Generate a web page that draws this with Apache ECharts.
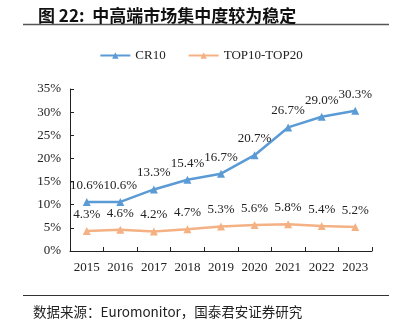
<!DOCTYPE html>
<html><head><meta charset="utf-8">
<script src="https://cdn.jsdelivr.net/npm/echarts@6/dist/echarts.min.js"></script>
<style>html,body{margin:0;padding:0;background:#fff}#c{width:402px;height:336px}</style>
</head><body><div id="c"></div>
<script>
const categories = ['2015','2016','2017','2018','2019','2020','2021','2022','2023'];
const cr10 = [10.6,10.6,13.3,15.4,16.7,20.7,26.7,29.0,30.3];
const top10to20 = [4.3,4.6,4.2,4.7,5.3,5.6,5.8,5.4,5.2];
const seriesNames = ['CR10','TOP10-TOP20'];
const titleText = '图 22:  中高端市场集中度较为稳定';
const sourceText = '数据来源：Euromonitor，国泰君安证券研究';

const serif = '"Liberation Serif","DejaVu Serif",serif';
const chart = echarts.init(document.getElementById('c'));
const lbl = {show:true, position:'top', distance:6, color:'#222', fontFamily:serif, fontSize:13,
  formatter: p => p.value.toFixed(1) + '%'};
chart.setOption({
  animation:false,
  title:{text:titleText, left:33, top:2, textStyle:{fontFamily:'"Noto Sans CJK SC"', fontWeight:'bold', fontSize:17, color:'#111'}},
  graphic:[
    {type:'line', shape:{x1:23,y1:24.5,x2:389,y2:24.5}, style:{stroke:'#555', lineWidth:1.5}},
    {type:'line', shape:{x1:23,y1:295.5,x2:389,y2:295.5}, style:{stroke:'#333', lineWidth:1.2}},
    {type:'text', left:33, top:305, style:{text:sourceText, fontFamily:'"Noto Sans CJK SC"', fontSize:13.5, fill:'#222'}}
  ],
  legend:{top:44, left:'center', itemGap:22, itemWidth:30, itemHeight:8,
    textStyle:{fontFamily:serif, fontSize:13, color:'#222'}, data:seriesNames},
  grid:{left:70, right:30, top:89, bottom:85},
  xAxis:{type:'category', data:categories, boundaryGap:true,
    axisLine:{lineStyle:{color:'#222', width:1}},
    axisTick:{show:true, inside:true, length:4, interval:0, lineStyle:{color:'#222'}},
    axisLabel:{color:'#222', fontFamily:serif, fontSize:13, margin:10, interval:0}},
  yAxis:{type:'value', min:0, max:35, interval:5,
    axisLine:{show:true, lineStyle:{color:'#222', width:1}},
    axisTick:{show:true, inside:true, length:4, lineStyle:{color:'#222'}},
    splitLine:{show:false},
    axisLabel:{color:'#222', fontFamily:serif, fontSize:13, margin:9, formatter:'{value}%'}},
  series:[
    {name:seriesNames[0], type:'line', data:cr10, symbol:'triangle', symbolSize:8,
      lineStyle:{color:'#5B9BD5', width:2.5}, itemStyle:{color:'#5B9BD5'}, label:lbl},
    {name:seriesNames[1], type:'line', data:top10to20, symbol:'triangle', symbolSize:8,
      lineStyle:{color:'#F4B183', width:2.5}, itemStyle:{color:'#F4B183'}, label:lbl}
  ]
});
</script></body></html>
